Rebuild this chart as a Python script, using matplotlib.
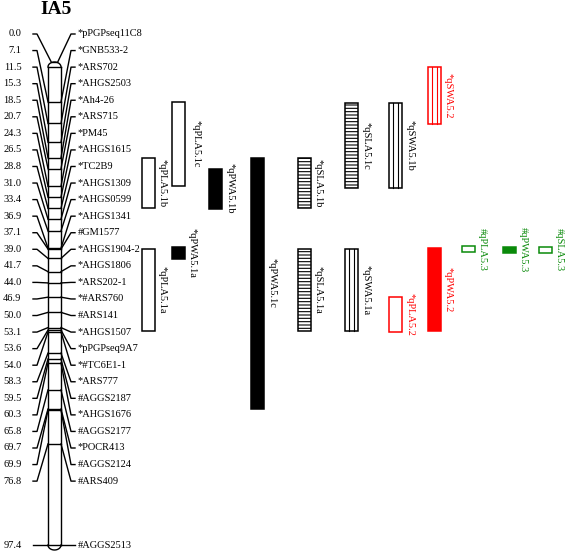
import numpy as np
import matplotlib
matplotlib.use('Agg')
from matplotlib import pyplot as plt
from matplotlib.patches import Rectangle

plt.rcParams['font.family'] = ['Liberation Serif', 'DejaVu Serif']
plt.rcParams['hatch.linewidth'] = 0.8

# linkage group IA5: marker positions (cM) and names
marker_cm = [0.0, 7.1, 11.5, 15.3, 18.5, 20.7, 24.3, 26.5, 28.8, 31.0, 33.4, 36.9, 37.1,
             39.0, 41.7, 44.0, 46.9, 50.0, 53.1, 53.6, 54.0, 58.3, 59.5, 60.3, 65.8,
             69.7, 69.9, 76.8, 97.4]
marker_names = ['*pPGPseq11C8', '*GNB533-2', '*ARS702', '*AHGS2503', '*Ah4-26', '*ARS715',
                '*PM45', '*AHGS1615', '*TC2B9', '*AHGS1309', '*AHGS0599', '*AHGS1341',
                '#GM1577', '*AHGS1904-2', '*AHGS1806', '*ARS202-1', '*#ARS760', '#ARS141',
                '*AHGS1507', '*pPGPseq9A7', '*#TC6E1-1', '*ARS777', '#AGGS2187',
                '*AHGS1676', '#AGGS2177', '*POCR413', '#AGGS2124', '#ARS409', '#AGGS2513']

# QTL intervals (cM)
qtl_names = ['*qPLA5.1c', '*qPLA5.1b', '*qPLA5.1a', '*qPWA5.1b', '*qPWA5.1a', '*qPWA5.1c',
             '*qSLA5.1b', '*qSLA5.1a', '*qSLA5.1c', '*qSWA5.1b', '*qSWA5.1a', '*qSWA5.2',
             '*qPLA5.2', '*qPWA5.2', '#qPLA5.3', '#qPWA5.3', '#qSLA5.3']
qtl_start = [7.1, 18.5, 37.1, 20.7, 36.7, 18.5, 18.5, 37.1, 7.3, 7.3, 37.1, 0.0,
             46.9, 36.9, 36.5, 36.7, 36.7]
qtl_end = [24.3, 28.8, 53.8, 28.9, 39.1, 69.7, 28.8, 53.8, 24.7, 24.7, 53.8, 11.6,
           54.0, 53.8, 37.7, 37.9, 37.9]

# layout
qtl_x = [172, 142, 142, 209, 172, 251, 298, 298, 345, 389, 345, 428, 389, 428, 462, 503, 539]
qtl_style = ['open', 'open', 'open', 'solid', 'solid', 'solid', 'hatch', 'hatch', 'hatch',
             'strip', 'strip', 'strip', 'open', 'solid', 'open', 'solid', 'open']
group_color = {'1': 'black', '2': '#ff0000', '3': '#0a8a0a'}
box_w = 13
fs = 7.5

top, bottom = 67.0, 545.0
scale = (bottom - top) / marker_cm[-1]


def cm_y(v):
    return top + v * scale


fig = plt.figure(figsize=(5.66, 5.52), dpi=100)
ax = fig.add_axes([0, 0, 1, 1])
ax.set_xlim(0, 566)
ax.set_ylim(552, 0)
ax.axis('off')

lw = 1.0
cx0, cx1 = 48.0, 61.0
mid = (cx0 + cx1) / 2

# chromosome body with rounded ends
ax.plot([cx0, cx0], [top, bottom], color='black', lw=lw)
ax.plot([cx1, cx1], [top, bottom], color='black', lw=lw)
t = np.linspace(0, np.pi, 40)
ax.plot(mid + 6.5 * np.cos(t), top - 5 * np.sin(t), color='black', lw=lw)
ax.plot(mid + 6.5 * np.cos(t), bottom + 5 * np.sin(t), color='black', lw=lw)

# labels evenly spaced; a marker far from the previous one keeps its own height
gap = 16.56
label_y = []
for i, v in enumerate(marker_cm):
    y = 34 + i * gap
    if i > 0 and v - marker_cm[i - 1] > 15:
        y = cm_y(v)
    label_y.append(y)

for i, (v, ly, name) in enumerate(zip(marker_cm, label_y, marker_names)):
    y = cm_y(v)
    ax.plot([cx0, cx1], [y, y], color='black', lw=lw)
    if i == 0:
        # first marker meets the rounded tip
        ax.plot([33, 37, mid - 3, mid + 3, 71, 75], [ly, ly, y - 4.5, y - 4.5, ly, ly],
                color='black', lw=lw)
    else:
        ax.plot([33, 37, cx0], [ly, ly, y], color='black', lw=lw)
        ax.plot([cx1, 71, 75], [y, ly, ly], color='black', lw=lw)
    ax.text(21.5, ly, f'{v:.1f}', ha='right', va='center', fontsize=fs)
    ax.text(78, ly, name, ha='left', va='center', fontsize=fs)

ax.text(56, 9, 'IA5', ha='center', va='center', fontsize=14, fontweight='bold')

# QTL bars
for name, s, e, x, st in zip(qtl_names, qtl_start, qtl_end, qtl_x, qtl_style):
    col = group_color[name.split('.')[1][0]]
    y0, y1 = cm_y(s), cm_y(e)
    if st == 'solid':
        r = Rectangle((x, y0), box_w, y1 - y0, facecolor=col, edgecolor=col, lw=1.1)
    elif st == 'hatch':
        r = Rectangle((x, y0), box_w, y1 - y0, facecolor='white', edgecolor=col,
                      lw=1.1, hatch='-----')
    else:
        r = Rectangle((x, y0), box_w, y1 - y0, facecolor='white', edgecolor=col, lw=1.1)
    ax.add_patch(r)
    if st == 'strip':
        for k in (1, 2):
            ax.plot([x + k * box_w / 3] * 2, [y0, y1], color=col, lw=0.8)
    pad = 7 if name == '*qPLA5.1c' else 3
    ax.text(x + box_w + pad, (y0 + y1) / 2, name, rotation=-90, ha='left', va='center',
            fontsize=fs, color=col)

fig.savefig('out.png', dpi=100)
